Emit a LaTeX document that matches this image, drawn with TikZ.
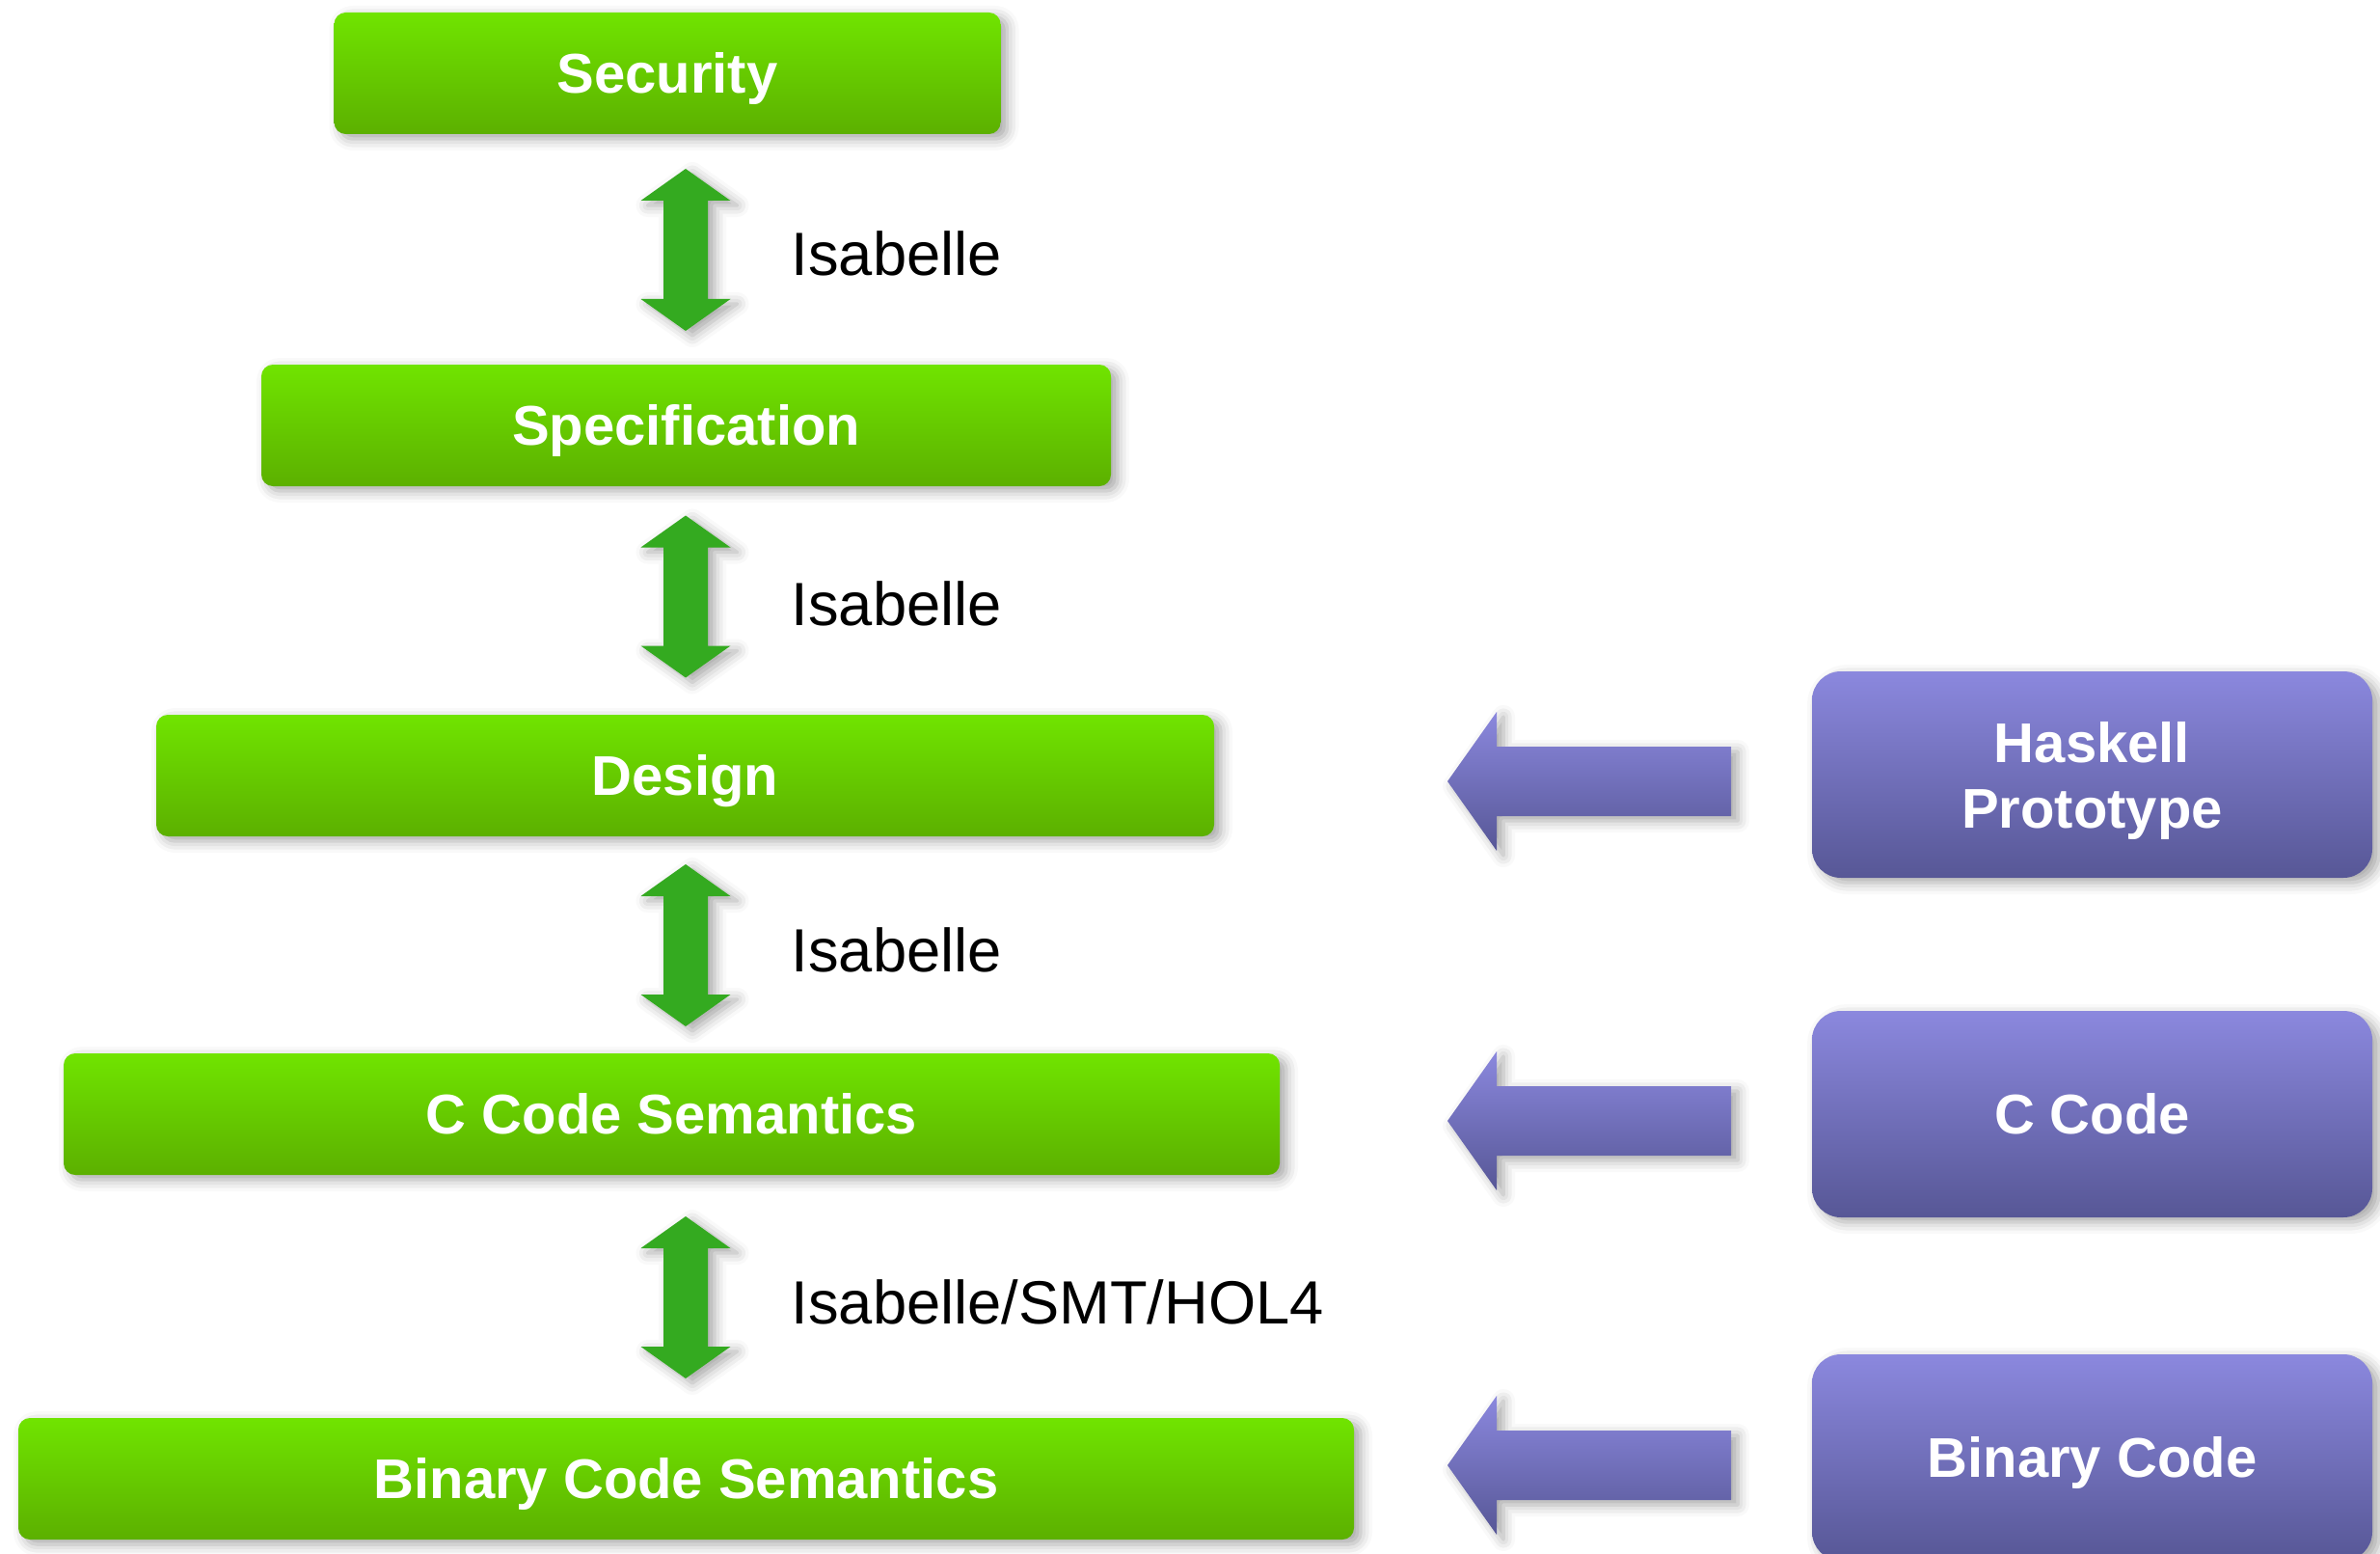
\documentclass[tikz,border=0pt]{standalone}
\usepackage{fontspec}
\setmainfont{Liberation Sans}
\usetikzlibrary{shadows.blur}

\definecolor{greentop}{RGB}{112,228,0}
\definecolor{greenbot}{RGB}{92,176,0}
\definecolor{purpletop}{RGB}{139,136,222}
\definecolor{purplebot}{RGB}{87,87,150}
\definecolor{linkgreen}{RGB}{52,170,32}

% vertical green double arrow, centred at (7.11,#1)
\newcommand{\linkarrow}[1]{%
  \fill[linkgreen,linkshadow,shift={(7.11,#1)}] (0,0.84) -- (0.465,0.51) -- (0.23,0.51) -- (0.23,-0.51)
    -- (0.465,-0.51) -- (0,-0.84) -- (-0.465,-0.51) -- (-0.23,-0.51) -- (-0.23,0.51) -- (-0.465,0.51) -- cycle;}
% purple arrow pointing left, tip at (15.01,#1)
\newcommand{\srcarrow}[1]{%
  \shade[top color=purpletop,bottom color=purplebot,linkshadow,shift={(15.01,#1)}] (0,0) -- (0.51,0.72) -- (0.51,0.36)
    -- (2.94,0.36) -- (2.94,-0.36) -- (0.51,-0.36) -- (0.51,-0.72) -- cycle;}

\begin{document}
\begin{tikzpicture}[line cap=round,line join=round,x=1.0cm,y=1.0cm,
    linkshadow/.style={blur shadow={shadow xshift=0.07cm,shadow yshift=-0.05cm,shadow blur radius=0.12cm,shadow opacity=35}},
    level/.style={rounded corners=0.12cm,top color=greentop,bottom color=greenbot,text=white,
      font=\bfseries\fontsize{16.5}{20}\selectfont,minimum height=1.26cm,inner sep=0pt,
      text height=11.8pt,text depth=0pt,linkshadow},
    source/.style={rounded corners=0.3cm,top color=purpletop,bottom color=purplebot,text=white,
      font=\bfseries\fontsize{16.5}{19.3}\selectfont,minimum width=5.81cm,minimum height=2.14cm,
      inner sep=0pt,align=center,linkshadow},
    tool/.style={font=\fontsize{18}{22}\selectfont,anchor=base west,inner sep=0pt}]
  \useasboundingbox (0,0) rectangle (24.68,-16.11);

  % levels of the proof
  \node[level,minimum width=6.91cm] (sec) at (6.92,-0.76) {Security};
  \node[level,minimum width=8.81cm] (spec) at (7.115,-4.41) {Specification};
  \node[level,minimum width=10.97cm] (des) at (7.105,-8.04) {Design};
  \node[level,minimum width=12.61cm] (ccs) at (6.965,-11.55) {C Code Semantics};
  \node[level,minimum width=13.85cm] (bcs) at (7.115,-15.33) {Binary Code Semantics};

  % refinement steps
  \linkarrow{-2.59}
  \linkarrow{-6.185}
  \linkarrow{-9.80}
  \linkarrow{-13.45}
  \node[tool] (t1) at (8.20,-2.85) {Isabelle};
  \node[tool] (t2) at (8.20,-6.48) {Isabelle};
  \node[tool] (t3) at (8.20,-10.07) {Isabelle};
  \node[tool] (t4) at (8.20,-13.72) {Isabelle/SMT/HOL4};

  % artefacts
  \node[source] (hs) at (21.695,-8.03) {\raisebox{-0.08cm}[\height][\depth]{\begin{tabular}{@{}c@{}}Haskell\\Prototype\end{tabular}}};
  \node[source,text height=11.8pt,text depth=0pt] (cc) at (21.695,-11.55) {C Code};
  \node[source,text height=11.8pt,text depth=0pt] (bc) at (21.695,-15.11) {Binary Code};
  \srcarrow{-8.10}
  \srcarrow{-11.62}
  \srcarrow{-15.19}
\end{tikzpicture}
\end{document}
